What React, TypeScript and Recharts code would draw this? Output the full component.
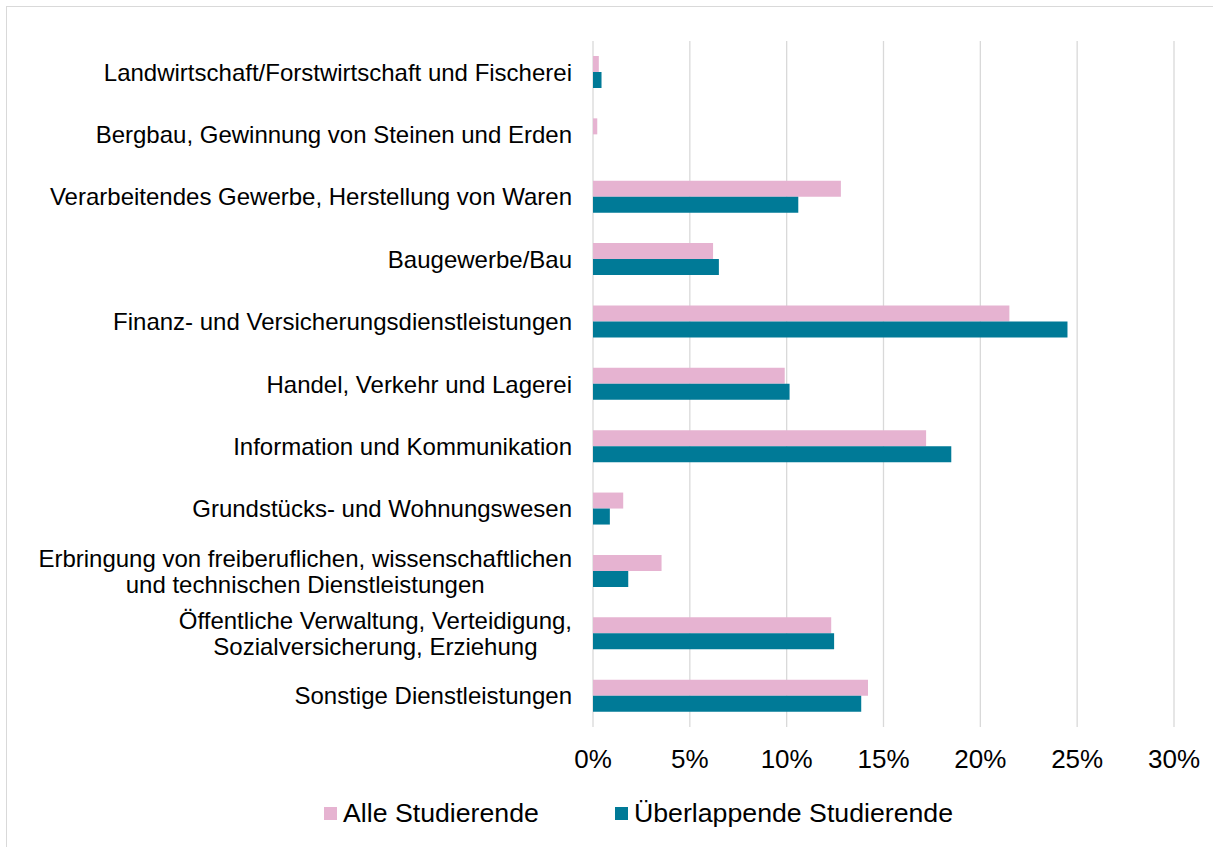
import { BarChart, Bar, XAxis, YAxis, CartesianGrid, Legend } from "recharts";

const FONT = "'Liberation Sans', Arial, sans-serif";
const PINK = "#E6B3D1";
const TEAL = "#007A97";

// Branchen (Zeilenumbrüche wie im Original)
const categories = [
    "Landwirtschaft/Forstwirtschaft und Fischerei",
    "Bergbau, Gewinnung von Steinen und Erden",
    "Verarbeitendes Gewerbe, Herstellung von Waren",
    "Baugewerbe/Bau",
    "Finanz- und Versicherungsdienstleistungen",
    "Handel, Verkehr und Lagerei",
    "Information und Kommunikation",
    "Grundstücks- und Wohnungswesen",
    "Erbringung von freiberuflichen, wissenschaftlichen\nund technischen Dienstleistungen",
    "Öffentliche Verwaltung, Verteidigung,\nSozialversicherung, Erziehung",
    "Sonstige Dienstleistungen",
];

// Anteile in Prozent
const alleStudierende = [0.3, 0.22, 12.8, 6.2, 21.5, 9.9, 17.2, 1.56, 3.54, 12.3, 14.2];
const ueberlappendeStudierende = [0.44, 0, 10.6, 6.5, 24.5, 10.15, 18.5, 0.87, 1.82, 12.45, 13.85];

const xTicks = [0, 5, 10, 15, 20, 25, 30];

const seriesNames = ["Alle Studierende", "Überlappende Studierende"];

const data = categories.map((name, i) => ({
    name,
    alle: alleStudierende[i],
    ueberlappend: ueberlappendeStudierende[i],
}));

const measureCtx =
    typeof document !== "undefined" ? document.createElement("canvas").getContext("2d") : null;

function textWidth(s: string) {
    if (!measureCtx) return s.length * 12;
    measureCtx.font = `24px ${FONT}`;
    return measureCtx.measureText(s).width;
}

function CategoryTick({ x, y, payload }: any) {
    const lines = String(payload.value).split("\n");
    const right = x - 13;
    const lineH = 26;
    const maxW = Math.max(...lines.map(textWidth));
    const cx = right - maxW / 2;
    const startY = y - ((lines.length - 1) * lineH) / 2;
    return (
        <text textAnchor="middle" fontSize={24} fontFamily={FONT} fill="#000">
            {lines.map((l, i) => (
                <tspan key={i} x={cx} y={startY + i * lineH} dy="0.355em">
                    {l}
                </tspan>
            ))}
        </text>
    );
}

function PercentTick({ x, y, payload }: any) {
    return (
        <text x={x} y={y} dy="0.71em" textAnchor="middle" fontSize={26} fontFamily={FONT} fill="#000">
            {payload.value}%
        </text>
    );
}

function SeriesLegend() {
    const items = [
        { label: seriesNames[0], color: PINK, left: 324 },
        { label: seriesNames[1], color: TEAL, left: 615 },
    ];
    return (
        <div style={{ position: "relative", height: 40, width: 1213 }}>
            {items.map((it) => (
                <div key={it.label}>
                    <div
                        style={{
                            position: "absolute",
                            left: it.left,
                            top: 14,
                            width: 13,
                            height: 13,
                            background: it.color,
                        }}
                    />
                    <div
                        style={{
                            position: "absolute",
                            left: it.left + 19,
                            top: 0,
                            height: 40,
                            lineHeight: "40px",
                            fontSize: 26.7,
                            fontFamily: FONT,
                            color: "#000",
                            whiteSpace: "nowrap",
                        }}
                    >
                        {it.label}
                    </div>
                </div>
            ))}
        </div>
    );
}

export default function App() {
    return (
        <div style={{ position: "fixed", inset: 0, overflow: "hidden", background: "#fff" }}>
            <div
                style={{
                    position: "absolute",
                    left: 6,
                    top: 6,
                    width: 1300,
                    height: 900,
                    border: "1px solid #d9d9d9",
                }}
            />
            <div style={{ position: "absolute", left: 0, top: 0 }}>
                <BarChart
                    width={1213}
                    height={847}
                    data={data}
                    layout="vertical"
                    barSize={16}
                    barGap={0}
                    margin={{ top: 41, right: 39, bottom: 14, left: 0 }}
                >
                    <CartesianGrid horizontal={false} stroke="#d9d9d9" strokeWidth={1.3} />
                    <XAxis
                        type="number"
                        domain={[0, 30]}
                        ticks={xTicks}
                        axisLine={false}
                        tickLine={false}
                        tickMargin={17}
                        height={66}
                        tick={<PercentTick />}
                    />
                    <YAxis
                        type="category"
                        dataKey="name"
                        width={593}
                        axisLine={false}
                        tickLine={false}
                        interval={0}
                        tick={<CategoryTick />}
                    />
                    <Legend verticalAlign="bottom" height={40} content={<SeriesLegend />} />
                    <Bar dataKey="alle" name={seriesNames[0]} fill={PINK} isAnimationActive={false} />
                    <Bar dataKey="ueberlappend" name={seriesNames[1]} fill={TEAL} isAnimationActive={false} />
                </BarChart>
            </div>
        </div>
    );
}
